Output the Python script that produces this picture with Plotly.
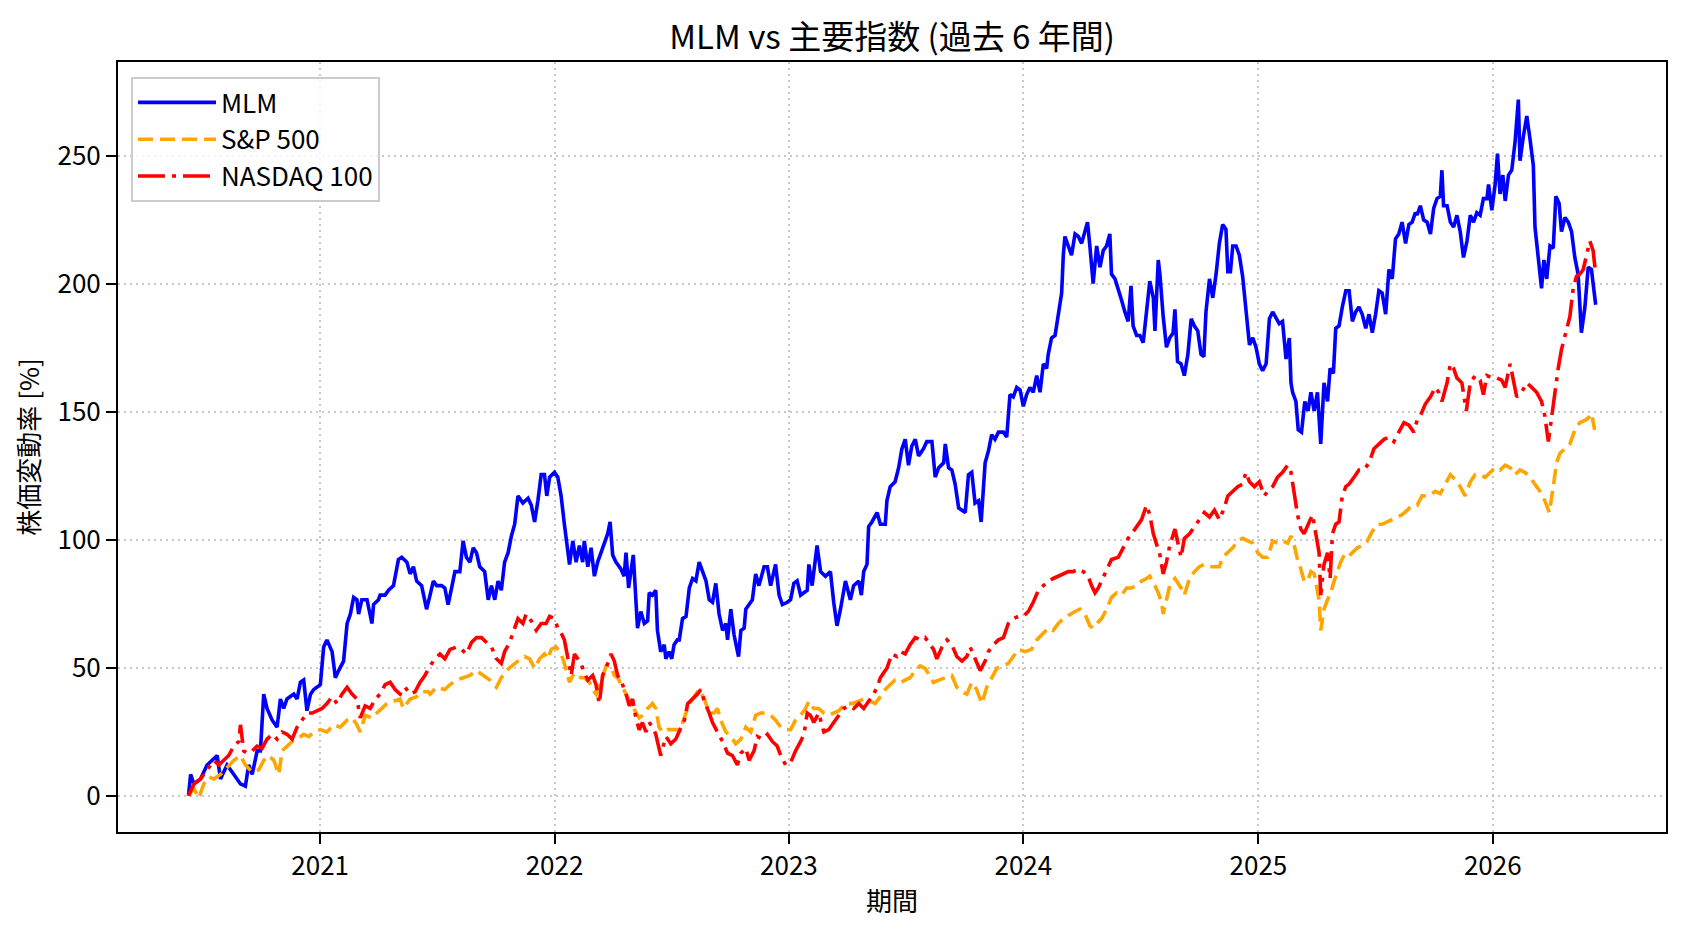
import pandas as pd
import plotly.graph_objects as go

# ---- data (dates as decimal years, values in %) ----
mlm_t = [2020.440,2020.449,2020.463,2020.491,2020.519,2020.562,2020.576,2020.604,2020.633,2020.661,2020.682,2020.696,2020.711,2020.732,2020.746,2020.760,2020.774,2020.796,2020.817,2020.831,2020.845,2020.859,2020.888,2020.902,2020.916,2020.930,2020.944,2020.959,2020.973,2021.001,2021.015,2021.029,2021.051,2021.065,2021.079,2021.100,2021.115,2021.129,2021.143,2021.157,2021.164,2021.178,2021.200,2021.221,2021.228,2021.249,2021.256,2021.277,2021.292,2021.313,2021.334,2021.348,2021.370,2021.384,2021.398,2021.412,2021.433,2021.454,
 2021.469,2021.483,2021.497,2021.518,2021.532,2021.546,2021.561,2021.575,2021.596,2021.610,2021.624,2021.639,2021.653,2021.667,2021.681,2021.702,2021.717,2021.731,2021.745,2021.759,2021.773,2021.787,2021.802,2021.816,2021.830,2021.844,2021.865,2021.887,2021.901,2021.915,2021.929,2021.943,2021.957,2021.967,2021.979,2022.000,2022.014,2022.028,2022.042,2022.057,2022.064,2022.078,2022.092,2022.106,2022.120,2022.127,2022.142,2022.156,2022.170,2022.184,2022.198,2022.212,2022.227,2022.237,2022.248,2022.262,2022.283,2022.297,2022.305,2022.316,2022.326,2022.336,2022.347,2022.354,2022.368,2022.383,2022.397,2022.404,2022.418,2022.432,2022.439,2022.453,2022.468,2022.475,2022.489,2022.500,2022.510,2022.524,
 2022.532,2022.546,2022.561,2022.575,2022.589,2022.603,2022.617,2022.632,2022.646,2022.660,2022.674,2022.688,2022.702,2022.717,2022.731,2022.738,2022.752,2022.766,2022.785,2022.795,2022.809,2022.816,2022.830,2022.844,2022.858,2022.872,2022.894,2022.908,2022.922,2022.943,2022.958,2022.972,2022.993,2023.007,2023.021,2023.035,2023.050,2023.078,2023.085,2023.099,2023.120,2023.135,2023.156,2023.177,2023.191,2023.205,2023.220,2023.241,2023.262,2023.276,2023.298,2023.309,2023.319,2023.333,2023.340,2023.354,2023.376,2023.390,2023.411,2023.418,2023.432,2023.453,2023.468,2023.482,2023.496,2023.510,2023.524,2023.539,2023.553,2023.574,2023.588,
 2023.610,2023.624,2023.639,2023.660,2023.667,2023.681,2023.695,2023.709,2023.724,2023.738,2023.752,2023.766,2023.780,2023.794,2023.809,2023.820,2023.837,2023.851,2023.865,2023.879,2023.894,2023.915,2023.929,2023.943,2023.957,2023.972,2023.986,2024.000,2024.014,2024.028,2024.042,2024.057,2024.071,2024.085,2024.099,2024.106,2024.120,2024.135,2024.149,2024.163,2024.170,2024.177,2024.191,2024.205,2024.220,2024.234,2024.248,2024.262,2024.273,2024.283,2024.297,2024.312,2024.326,2024.340,2024.354,2024.368,2024.375,2024.390,2024.404,2024.418,2024.432,2024.446,2024.458,2024.467,2024.482,2024.496,2024.510,2024.524,2024.538,2024.553,2024.560,2024.574,2024.581,2024.595,2024.609,2024.623,2024.637,2024.645,2024.656,
 2024.671,2024.685,2024.700,2024.714,2024.728,2024.742,2024.756,2024.768,2024.777,2024.792,2024.806,2024.820,2024.834,2024.848,2024.862,2024.870,2024.881,2024.891,2024.905,2024.919,2024.933,2024.947,2024.962,2024.976,2024.990,2025.004,2025.018,2025.033,2025.047,2025.061,2025.075,2025.089,2025.103,2025.118,2025.132,2025.139,2025.146,2025.160,2025.170,2025.184,2025.198,2025.212,2025.224,2025.238,2025.252,2025.266,2025.280,2025.295,2025.306,2025.320,2025.330,2025.344,2025.358,2025.373,2025.387,2025.401,2025.415,2025.429,2025.443,2025.458,2025.472,2025.486,2025.500,2025.514,2025.528,2025.543,2025.557,2025.571,2025.585,2025.599,2025.613,2025.628,2025.642,2025.656,2025.670,
 2025.677,2025.691,2025.705,2025.720,2025.734,2025.748,2025.762,2025.776,2025.783,2025.790,2025.805,2025.819,2025.833,2025.847,2025.861,2025.875,2025.890,2025.904,2025.918,2025.932,2025.946,2025.960,2025.975,2025.982,2025.996,2026.010,2026.020,2026.031,2026.043,2026.053,2026.067,2026.081,2026.095,2026.109,2026.116,2026.130,2026.145,2026.159,2026.173,2026.180,2026.194,2026.208,2026.218,2026.230,2026.244,2026.258,2026.269,2026.283,2026.293,2026.308,2026.322,2026.336,2026.350,2026.364,2026.378,2026.393,2026.407,2026.421,2026.428,2026.439]
mlm_v = [0,8.3,4.6,6.5,12.0,15.7,6.5,12.0,8.3,4.6,3.7,12.0,8.3,17.5,17.5,39.7,34.1,29.5,26.8,37.8,34.1,37.8,39.7,37.8,44.3,45.2,33.2,39.7,41.5,43.4,58.1,60.9,56.3,46.1,48.9,52.6,67.3,71.0,77.5,76.6,71.0,76.6,76.6,67.3,74.7,76.6,78.4,78.4,80.3,82.1,92.3,93.2,91.3,86.7,89.5,83.9,82.1,72.9,
 78.4,83.9,82.1,82.1,81.2,74.7,81.2,87.6,87.6,99.6,93.2,91.3,96.9,95.0,89.5,87.6,76.6,82.1,76.6,83.9,80.3,91.3,95.0,101.5,106.1,117.2,114.4,116.3,113.5,107.0,115.3,125.5,125.5,117.2,124.5,126.4,124.5,117.2,106.1,96.9,90.4,99.6,91.3,97.8,91.3,99.6,89.5,96.9,85.8,91.3,95.0,97.8,102.4,107.0,94.1,91.3,88.6,85.8,95.0,81.2,87.6,94.1,76.6,65.5,72.0,67.3,68.3,79.3,78.4,80.3,64.6,56.3,59.0,53.5,56.3,53.5,59.0,60.9,
 60.9,69.2,70.1,81.2,84.9,84.0,91.3,87.6,84.0,76.6,75.6,83.0,71.0,64.6,67.3,60.9,72.9,62.8,54.4,64.6,65.5,72.9,74.7,76.6,86.7,82.1,89.5,89.5,82.1,90.4,78.4,74.7,75.6,76.6,83.0,84.0,78.4,80.3,90.4,82.1,97.8,87.6,85.8,87.6,75.6,66.4,72.9,83.9,76.6,82.1,83.9,78.4,87.6,90.4,105.2,107.0,110.7,106.1,106.1,115.3,120.8,122.7,128.2,135.6,139.3,129.2,136.6,139.3,132.8,135.6,138.4,
 138.4,124.5,128.2,130.1,137.5,128.2,127.3,121.8,112.5,111.6,110.7,125.5,126.4,114.4,115.3,107.0,130.1,134.7,141.1,139.3,142.1,142.1,140.2,156.8,155.9,159.6,158.7,152.2,156.8,159.6,157.7,164.2,157.7,168.8,167.0,172.5,178.9,179.9,187.3,196.5,211.3,218.6,214.9,211.3,219.6,218.6,215.9,220.5,224.2,214.9,200.2,214.9,206.6,213.1,214.9,219.6,203.9,202.0,198.3,193.7,189.1,185.4,199.3,183.6,179.9,179.9,177.1,190.1,201.1,194.6,181.7,209.4,203.9,187.3,175.3,179.0,180.8,190.1,169.7,
 168.8,164.2,172.5,186.4,183.6,181.7,172.5,171.6,189.1,202.0,194.6,203.9,215.9,223.3,221.4,204.8,204.8,214.9,214.9,211.3,203.0,189.1,176.2,179.0,175.3,168.8,166.1,168.8,186.4,189.1,186.4,184.5,185.4,170.7,178.9,161.4,157.7,154.1,143.0,142.1,154.1,150.4,157.7,150.4,157.7,137.5,161.4,154.1,167.0,165.1,182.7,183.6,191.0,197.4,197.4,185.4,189.1,191.0,188.2,182.7,188.2,181.0,188.2,197.4,196.5,188.2,205.7,202.0,217.7,219.6,224.2,215.9,223.3,224.2,227.9,
 227.0,230.6,225.1,224.2,219.6,229.7,233.4,234.3,244.5,230.6,230.6,224.2,222.3,226.9,220.5,210.4,216.8,226.9,224.2,227.9,226.9,233.4,233.4,238.9,228.8,238.9,251.0,235.2,242.6,232.5,242.6,244.5,255.5,272.1,248.2,257.4,265.7,256.5,246.3,222.3,209.4,198.3,209.4,202.0,214.9,214.0,234.3,231.5,220.5,226.0,224.2,220.5,210.4,203.9,181.0,191.0,206.6,205.7,200.2,191.9]

sp_t = [2020.440,2020.463,2020.484,2020.505,2020.526,2020.548,2020.576,2020.604,2020.633,2020.661,2020.682,2020.711,2020.739,2020.760,2020.781,2020.803,2020.824,2020.838,2020.859,2020.881,2020.902,2020.930,2020.952,2020.973,2021.001,2021.029,2021.058,2021.086,2021.115,2021.136,2021.157,2021.171,2021.192,2021.221,2021.242,2021.263,2021.285,2021.313,2021.341,2021.355,2021.384,2021.412,2021.433,2021.462,
 2021.469,2021.497,2021.532,2021.554,2021.582,2021.610,2021.639,2021.667,2021.695,2021.724,2021.752,2021.773,2021.794,2021.816,2021.844,2021.872,2021.894,2021.915,2021.936,2021.957,2021.972,2021.986,2022.007,2022.028,2022.042,2022.064,2022.078,2022.092,2022.113,2022.127,2022.149,2022.163,2022.177,2022.191,2022.205,2022.220,2022.241,2022.255,2022.269,2022.283,2022.305,2022.326,2022.347,2022.361,2022.375,2022.397,2022.418,2022.432,2022.446,2022.460,2022.482,2022.503,2022.524,
 2022.532,2022.554,2022.575,2022.596,2022.617,2022.639,2022.660,2022.681,2022.695,2022.709,2022.731,2022.752,2022.773,2022.795,2022.816,2022.837,2022.858,2022.879,2022.901,2022.922,2022.943,2022.965,2022.986,2023.007,2023.028,2023.050,2023.071,2023.085,2023.106,2023.127,2023.149,2023.170,2023.191,2023.213,2023.241,2023.269,2023.298,2023.319,2023.347,2023.368,2023.390,2023.411,2023.432,2023.453,2023.475,2023.496,2023.517,2023.539,2023.560,2023.581,
 2023.617,2023.639,2023.667,2023.695,2023.716,2023.738,2023.759,2023.780,2023.801,2023.823,2023.844,2023.865,2023.887,2023.915,2023.936,2023.957,2023.979,2024.007,2024.035,2024.057,2024.078,2024.106,2024.127,2024.149,2024.170,2024.198,2024.220,2024.241,2024.262,2024.283,2024.297,2024.312,2024.333,2024.354,2024.375,2024.397,2024.418,2024.439,2024.460,2024.482,2024.503,2024.524,2024.538,2024.560,2024.574,2024.588,2024.595,2024.609,2024.623,2024.645,
 2024.671,2024.685,2024.707,2024.728,2024.749,2024.770,2024.792,2024.813,2024.834,2024.848,2024.870,2024.891,2024.912,2024.933,2024.955,2024.976,2024.997,2025.018,2025.040,2025.061,2025.082,2025.103,2025.125,2025.139,2025.153,2025.167,2025.181,2025.195,2025.210,2025.224,2025.238,2025.252,2025.259,2025.266,2025.280,2025.295,2025.309,2025.323,2025.337,2025.351,2025.366,2025.380,2025.401,2025.422,2025.443,2025.465,2025.486,2025.507,2025.528,2025.550,2025.571,2025.592,2025.613,2025.635,2025.656,
 2025.677,2025.698,2025.727,2025.755,2025.776,2025.797,2025.819,2025.840,2025.861,2025.882,2025.904,2025.925,2025.946,2025.967,2025.989,2026.010,2026.031,2026.053,2026.074,2026.095,2026.116,2026.137,2026.159,2026.180,2026.201,2026.222,2026.241,2026.258,2026.272,2026.286,2026.308,2026.329,2026.350,2026.371,2026.393,2026.407,2026.421,2026.435]
sp_v = [0,2.8,-0.9,4.6,7.4,6.5,8.3,11.1,13.8,15.7,12.0,9.2,10.1,13.8,15.7,13.8,8.3,17.5,19.4,21.2,22.1,24.0,23.1,24.9,25.8,24.9,27.7,26.8,29.5,30.4,27.7,24.9,31.4,30.4,32.3,34.1,36.0,36.9,37.8,34.1,37.8,38.7,40.6,40.6,
 39.7,42.4,41.5,43.4,45.2,46.1,47.0,48.9,47.0,45.2,42.4,46.1,48.9,50.7,52.6,54.4,53.5,49.8,53.5,55.4,53.5,57.2,58.1,55.4,51.7,44.3,47.0,48.0,46.1,46.1,44.3,41.5,39.7,42.4,47.0,50.7,50.7,47.0,46.1,43.4,39.7,36.0,32.3,30.4,31.4,34.1,36.0,34.1,26.8,24.9,25.8,25.8,25.8,
 24.9,30.4,36.0,38.7,41.5,37.8,32.3,32.3,34.1,29.5,24.9,23.1,20.3,22.1,26.8,24.9,31.4,32.3,32.3,31.4,29.5,26.8,25.8,25.8,29.5,31.4,34.1,36.9,34.1,34.1,32.3,31.4,32.3,33.2,36.0,36.0,36.9,37.8,36.9,36.0,38.7,41.5,43.4,45.2,44.3,45.2,46.1,48.9,50.7,49.8,
 44.3,45.2,46.1,47.0,42.4,40.6,39.7,44.3,41.5,36.0,42.4,46.1,49.8,50.7,51.7,54.4,57.2,56.3,57.2,60.9,62.7,65.5,64.6,67.3,69.2,71.0,72.0,72.9,71.0,66.4,65.5,67.3,69.2,72.9,77.5,79.3,78.4,81.2,81.2,82.1,83.9,84.9,85.8,82.1,79.3,75.6,71.0,76.6,82.1,84.9,
 81.2,78.4,84.9,87.6,89.5,90.4,89.5,89.5,89.5,93.2,95.0,96.9,99.6,100.6,99.6,98.7,95.0,93.2,93.2,99.6,98.7,99.6,98.7,101.5,97.8,92.3,88.6,83.9,83.9,87.6,86.7,80.3,76.6,64.6,72.9,76.6,79.3,83.9,87.6,91.3,94.1,93.2,95.0,96.9,97.8,99.6,103.3,106.1,106.1,107.0,107.9,108.9,109.8,111.6,113.5,
 113.5,117.2,117.2,119.0,118.1,121.8,125.5,123.6,120.8,117.2,122.7,125.5,125.5,124.5,126.4,128.2,127.3,129.2,128.2,125.5,127.3,126.4,124.5,121.8,119.0,115.3,110.7,120.8,130.1,133.8,135.6,137.5,143.0,145.8,146.7,147.6,149.4,143.0]

ndx_t = [2020.440,2020.463,2020.491,2020.519,2020.548,2020.569,2020.590,2020.611,2020.633,2020.654,2020.661,2020.675,2020.689,2020.711,2020.732,2020.753,2020.774,2020.796,2020.817,2020.838,2020.859,2020.881,2020.902,2020.923,2020.944,2020.966,2020.987,2021.008,2021.029,2021.051,2021.072,2021.093,2021.115,2021.136,2021.157,2021.171,2021.192,2021.214,2021.235,2021.256,2021.277,2021.299,2021.320,2021.341,2021.362,2021.384,2021.405,2021.426,2021.447,
 2021.469,2021.490,2021.511,2021.532,2021.554,2021.582,2021.603,2021.624,2021.646,2021.667,2021.688,2021.709,2021.731,2021.752,2021.773,2021.787,2021.809,2021.830,2021.844,2021.865,2021.879,2021.901,2021.922,2021.943,2021.964,2021.979,2022.000,2022.014,2022.028,2022.042,2022.057,2022.071,2022.085,2022.099,2022.113,2022.127,2022.142,2022.163,2022.177,2022.191,2022.205,2022.227,2022.241,2022.255,2022.269,2022.283,2022.305,2022.319,2022.333,2022.347,2022.361,2022.375,2022.390,2022.404,2022.418,2022.432,2022.453,2022.475,2022.496,2022.517,
 2022.532,2022.554,2022.568,2022.589,2022.610,2022.624,2022.639,2022.660,2022.674,2022.695,2022.717,2022.738,2022.759,2022.780,2022.795,2022.816,2022.830,2022.851,2022.865,2022.887,2022.908,2022.929,2022.950,2022.965,2022.986,2023.007,2023.028,2023.050,2023.064,2023.078,2023.092,2023.106,2023.127,2023.149,2023.170,2023.191,2023.213,2023.234,2023.255,2023.276,2023.298,2023.319,2023.340,2023.361,2023.376,2023.390,2023.404,2023.418,2023.439,2023.461,2023.475,2023.496,2023.517,2023.539,2023.560,2023.581,
 2023.617,2023.631,2023.653,2023.674,2023.695,2023.716,2023.738,2023.759,2023.773,2023.794,2023.816,2023.837,2023.851,2023.872,2023.894,2023.915,2023.936,2023.957,2023.979,2024.000,2024.021,2024.042,2024.064,2024.085,2024.106,2024.127,2024.149,2024.170,2024.191,2024.212,2024.234,2024.255,2024.276,2024.290,2024.305,2024.319,2024.333,2024.354,2024.375,2024.404,2024.425,2024.446,2024.475,2024.503,2024.524,2024.538,2024.553,2024.567,2024.581,2024.595,2024.609,2024.623,2024.645,
 2024.671,2024.685,2024.707,2024.728,2024.749,2024.770,2024.792,2024.813,2024.834,2024.855,2024.870,2024.891,2024.912,2024.933,2024.947,2024.962,2024.983,2025.004,2025.025,2025.040,2025.061,2025.082,2025.103,2025.125,2025.139,2025.153,2025.167,2025.181,2025.195,2025.217,2025.231,2025.245,2025.259,2025.266,2025.280,2025.295,2025.306,2025.316,2025.330,2025.344,2025.358,2025.373,2025.387,2025.408,2025.429,2025.450,2025.472,2025.493,2025.514,2025.536,2025.557,2025.578,2025.599,2025.621,2025.642,2025.663,
 2025.677,2025.691,2025.712,2025.734,2025.755,2025.769,2025.783,2025.805,2025.819,2025.833,2025.847,2025.868,2025.887,2025.904,2025.925,2025.946,2025.960,2025.975,2025.996,2026.017,2026.038,2026.053,2026.074,2026.088,2026.102,2026.123,2026.145,2026.166,2026.187,2026.208,2026.222,2026.237,2026.251,2026.265,2026.279,2026.293,2026.308,2026.329,2026.343,2026.357,2026.371,2026.386,2026.400,2026.414,2026.428,2026.439]
ndx_v = [0,4.6,6.5,10.1,13.8,12.0,13.8,15.7,19.4,21.2,27.7,17.5,16.6,17.5,19.4,18.5,22.1,24.0,22.1,24.9,24.0,22.1,26.8,29.5,32.3,32.3,33.2,34.1,36.0,38.7,36.0,39.7,42.4,39.7,37.8,30.4,35.1,34.1,37.8,39.7,43.4,44.3,41.5,39.7,42.4,39.7,40.6,44.3,47.0,
 50.7,53.5,55.4,53.5,57.2,58.1,57.2,55.4,60.0,61.8,61.8,60.0,58.1,53.5,51.7,56.3,60.0,65.5,69.2,67.3,71.0,68.3,64.6,67.3,67.3,70.1,69.2,65.5,63.7,60.9,54.4,47.0,55.4,53.5,51.7,48.0,45.2,47.0,43.4,36.0,47.0,51.7,55.4,52.6,47.0,45.2,39.7,35.1,37.8,30.4,25.8,28.6,24.9,28.6,26.8,24.0,15.7,23.1,20.3,22.1,
 24.9,29.5,36.0,37.8,39.7,41.5,36.9,32.3,28.6,24.9,21.2,16.6,15.7,12.0,16.6,18.5,13.8,17.5,23.1,22.1,24.0,21.2,19.4,15.7,12.0,12.9,17.5,21.2,24.0,32.3,31.4,28.6,32.3,24.9,25.8,28.6,31.4,34.1,35.1,34.1,36.0,34.1,36.9,39.7,42.4,46.1,48.0,49.8,55.4,54.4,56.3,55.4,59.0,61.8,60.9,61.8,
 57.2,53.5,58.1,60.9,59.0,54.4,52.6,54.4,58.1,53.5,48.9,52.6,56.3,59.0,60.9,61.8,67.3,69.2,70.1,70.1,72.0,75.6,80.3,82.1,83.9,84.9,85.8,86.7,87.6,87.6,88.6,87.6,85.8,82.1,79.3,81.2,83.9,88.6,92.3,93.2,96.9,100.6,104.2,107.9,113.5,109.8,102.4,97.8,94.1,86.7,91.3,97.8,104.2,
 93.2,100.6,102.4,105.2,107.9,110.7,108.9,111.6,107.9,112.5,117.2,119.0,120.8,121.8,126.4,122.7,120.8,122.7,117.2,119.0,120.8,124.5,126.4,129.2,126.4,118.1,109.8,104.2,102.4,107.0,109.8,102.4,95.0,78.4,90.4,95.0,84.9,102.4,106.1,107.0,117.2,120.8,121.8,124.5,127.3,127.3,130.1,135.6,137.5,139.3,140.2,138.4,142.1,145.8,144.8,142.1,
 146.7,148.5,153.1,155.9,159.6,157.7,154.1,161.4,168.8,167.0,163.3,161.4,150.4,161.4,164.2,162.4,156.8,164.2,163.3,163.3,162.4,159.6,168.8,161.4,155.9,157.7,161.4,159.6,157.7,154.1,148.5,138.4,148.5,155.9,167.0,174.4,179.9,187.3,198.3,203.0,203.9,205.7,211.3,216.8,213.1,203.9]

FONT = "Noto Sans CJK JP"


def to_date(y):
    yr = int(y)
    start = pd.Timestamp(yr, 1, 1)
    end = pd.Timestamp(yr + 1, 1, 1)
    return start + (end - start) * (y - yr)


def dates(ts):
    return [to_date(t) for t in ts]


fig = go.Figure()
fig.add_trace(go.Scatter(x=dates(mlm_t), y=mlm_v, mode="lines", name="MLM",
                         line=dict(color="#0000ff", width=3.6)))
fig.add_trace(go.Scatter(x=dates(sp_t), y=sp_v, mode="lines", name="S&P 500",
                         line=dict(color="#ffa500", width=3.6, dash="15px,7px")))
fig.add_trace(go.Scatter(x=dates(ndx_t), y=ndx_v, mode="lines", name="NASDAQ 100",
                         line=dict(color="#ff0000", width=3.6, dash="27px,7px,4px,7px")))

t0 = min(mlm_t[0], sp_t[0], ndx_t[0])
t1 = max(mlm_t[-1], sp_t[-1], ndx_t[-1])
pad = 0.05 * (t1 - t0)
xr = [to_date(t0 - pad), to_date(t1 + pad)]

yticks = [0, 50, 100, 150, 200, 250]
xticks = [2021, 2022, 2023, 2024, 2025, 2026]

fig.update_layout(
    width=1688, height=932,
    margin=dict(l=118, r=22, t=62, b=100),
    paper_bgcolor="white", plot_bgcolor="white",
    font=dict(family=FONT, size=26, color="black"),
    title=dict(text="MLM vs 主要指数 (過去 6 年間)", x=0.5285, xanchor="center",
               y=1 - 37 / 932, yanchor="middle", yref="container",
               font=dict(family=FONT, size=33, color="black")),
    showlegend=True,
    legend=dict(x=0.0084, y=0.9805, xanchor="left", yanchor="top",
                bgcolor="rgba(255,255,255,0.8)", bordercolor="#cccccc", borderwidth=2,
                font=dict(family=FONT, size=26, color="black"),
                itemwidth=78, tracegroupgap=4),
)
fig.update_xaxes(
    range=xr, type="date",
    tickvals=[pd.Timestamp(y, 1, 1) for y in xticks], ticktext=[str(y) for y in xticks],
    showline=True, linecolor="black", linewidth=2, mirror=True,
    ticks="outside", ticklen=10, tickwidth=2, tickcolor="black",
    showgrid=True, gridcolor="#c8c8c8", gridwidth=1.5, griddash="2px,4px",
    zeroline=False,
    title=dict(text="期間", standoff=12, font=dict(family=FONT, size=26)),
    tickfont=dict(family=FONT, size=26),
)
fig.update_yaxes(
    range=[-14.2, 286.8],
    tickvals=yticks, ticktext=[str(v) for v in yticks],
    showline=True, linecolor="black", linewidth=2, mirror=True,
    ticks="outside", ticklen=10, tickwidth=2, tickcolor="black",
    showgrid=True, gridcolor="#c8c8c8", gridwidth=1.5, griddash="2px,4px",
    zeroline=False,
    title=dict(text="株価変動率 [%]", standoff=10, font=dict(family=FONT, size=26)),
    tickfont=dict(family=FONT, size=26),
)

fig.write_html("out.html")
